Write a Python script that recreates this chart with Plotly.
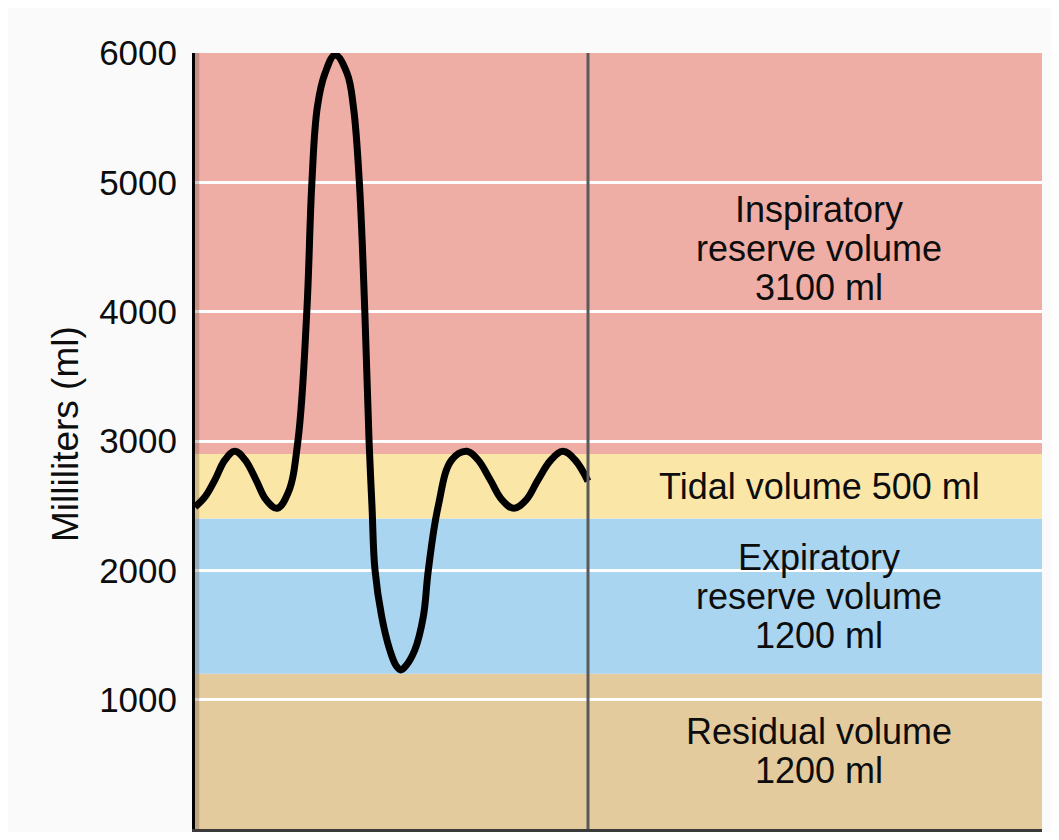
import plotly.graph_objects as go

# ---- data ----
band_names = ["Residual volume", "Expiratory reserve volume", "Tidal volume", "Inspiratory reserve volume"]
band_volumes = [1200, 1200, 500, 3100]
band_colors = ["#e3cb9e", "#a9d5f0", "#fae6a7", "#efaea5"]
band_label_lines = [
    ["Residual volume", "1200 ml"],
    ["Expiratory", "reserve volume", "1200 ml"],
    ["Tidal volume 500 ml"],
    ["Inspiratory", "reserve volume", "3100 ml"],
]

# spirometer trace: time (s) and volume (ml)
time_s = [0.00, 0.24, 0.47, 0.71, 0.94, 1.18, 1.44, 1.68, 1.94, 2.20, 2.43,
          2.64, 2.76, 2.89, 3.07, 3.31, 3.59, 3.74, 3.88, 4.01, 4.11, 4.18,
          4.25, 4.41, 4.60, 4.75, 4.86, 4.98, 5.19, 5.39, 5.51, 5.74, 6.06,
          6.42, 6.68, 6.97, 7.25, 7.53, 7.82, 8.10, 8.41, 8.69, 8.97, 9.28]
volume_ml = [2490, 2570, 2700, 2855, 2920, 2855, 2700, 2545, 2480, 2600, 3000,
             4000, 5000, 5585, 5843, 5985, 5843, 5585, 5005, 4000, 3000, 2490,
             2003, 1640, 1384, 1262, 1230, 1262, 1384, 1640, 2003, 2492, 2853,
             2920, 2855, 2700, 2545, 2480, 2545, 2700, 2855, 2920, 2855, 2690]

y_ticks = [0, 1000, 2000, 3000, 4000, 5000, 6000]
divider_time = 9.28
x_range = [0, 20]
y_range = [0, 6000]
y_title = "Milliliters (ml)"

FONT = "Liberation Sans, Arial, sans-serif"

fig = go.Figure()

# cumulative band boundaries
bounds = [0]
for v in band_volumes:
    bounds.append(bounds[-1] + v)

shapes = []
for i, col in enumerate(band_colors):
    shapes.append(dict(type="rect", xref="paper", yref="y", x0=0, x1=1,
                       y0=bounds[i], y1=bounds[i + 1], fillcolor=col,
                       line=dict(width=0), layer="below"))
# subtle shading at left edge
shapes.append(dict(type="rect", xref="paper", yref="paper", x0=0, x1=0.005, y0=0, y1=1,
                   fillcolor="rgba(60,30,20,0.22)", line=dict(width=0), layer="above"))
# divider line
shapes.append(dict(type="line", xref="x", yref="paper", x0=divider_time, x1=divider_time,
                   y0=0, y1=1, line=dict(color="#5a5a5a", width=3), layer="above"))

fig.add_trace(go.Scatter(
    x=time_s, y=volume_ml, mode="lines",
    line=dict(color="black", width=7, shape="spline", smoothing=1.1),
    hoverinfo="skip", showlegend=False,
))

# labels
label_x = (divider_time + x_range[1]) / 2 + 0.1
line_gap = 39
annotations = []
for i, lines in enumerate(band_label_lines):
    mid = (bounds[i] + bounds[i + 1]) / 2
    n = len(lines)
    for j, txt in enumerate(lines):
        annotations.append(dict(
            x=label_x, y=mid, xref="x", yref="y", text=txt, showarrow=False,
            xanchor="center", yanchor="middle",
            yshift=((n - 1) / 2 - j) * line_gap + (5 if i == 3 else 0),
            font=dict(family=FONT, size=36, color="#0d0d0d"),
        ))

# y-axis title as rotated annotation
annotations.append(dict(
    x=-0.1535, y=0.509, xref="paper", yref="paper", text=y_title, showarrow=False,
    textangle=-90, xanchor="center", yanchor="middle",
    font=dict(family=FONT, size=37, color="#0d0d0d"),
))

fig.update_layout(
    width=1043, height=824,
    margin=dict(l=187, r=9, t=45, b=3),
    paper_bgcolor="#fafafa", plot_bgcolor="#fafafa",
    shapes=shapes, annotations=annotations,
    showlegend=False,
    xaxis=dict(range=x_range, showgrid=False, zeroline=False, showticklabels=False,
               ticks="", showline=True, linecolor="#3a3a3a", linewidth=4, mirror=False,
               fixedrange=True),
    yaxis=dict(range=y_range, tickvals=y_ticks, ticktext=[str(t) for t in y_ticks],
               showgrid=True, gridcolor="white", gridwidth=3, zeroline=False,
               showline=True, linecolor="black", linewidth=3,
               ticks="outside", ticklen=8, tickcolor="rgba(0,0,0,0)",
               tickfont=dict(family=FONT, size=35, color="#0d0d0d"),
               fixedrange=True),
)

fig.write_html("out.html")
